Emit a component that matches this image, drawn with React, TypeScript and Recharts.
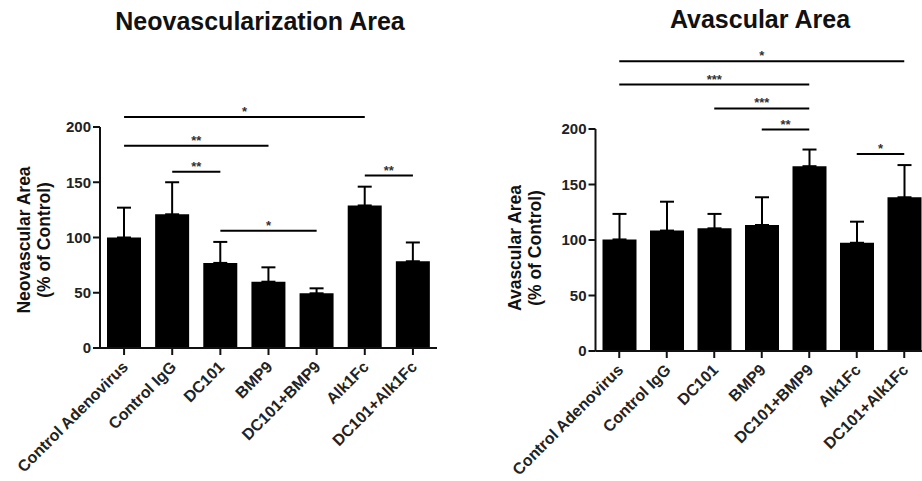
import React from 'react';
import { BarChart, Bar, XAxis, YAxis, ErrorBar, ReferenceLine } from 'recharts';

const groups = ['Control Adenovirus', 'Control IgG', 'DC101', 'BMP9', 'DC101+BMP9', 'Alk1Fc', 'DC101+Alk1Fc'];

// neovascular area, % of control (mean and upper SEM)
const neoMean = [100, 121, 77, 60, 49.5, 129, 78.5];
const neoErr = [27, 29, 19, 13, 4.5, 17, 17];

// avascular area, % of control
const avMean = [100.5, 108.5, 110.5, 113.5, 166.5, 97.5, 138.5];
const avErr = [23, 26, 13, 25, 15, 19, 29];

const yTicks = [0, 50, 100, 150, 200];

// significance bars: group index from/to, height in axis units, stars
const neoBrackets = [
  { from: 0, to: 5, y: 209, label: '*' },
  { from: 0, to: 3, y: 183, label: '**' },
  { from: 1, to: 2, y: 159.5, label: '**' },
  { from: 2, to: 4, y: 106, label: '*' },
  { from: 5, to: 6, y: 156, label: '**' },
];
const avBrackets = [
  { from: 0, to: 6, y: 261, label: '*' },
  { from: 0, to: 4, y: 240, label: '***' },
  { from: 2, to: 4, y: 218.5, label: '***' },
  { from: 3, to: 4, y: 199.5, label: '**' },
  { from: 5, to: 6, y: 177.5, label: '*' },
];

const FONT = '"Liberation Sans", Arial, sans-serif';

const toRows = (mean: number[], err: number[]) =>
  groups.map((g, i) => ({ name: g, value: mean[i], err: [0, err[i]] }));

const XTick = (props: any) => {
  const { x, y, payload } = props;
  return (
    <g transform={`translate(${x + 5},${y + 11})`}>
      <text
        transform="rotate(-45)"
        textAnchor="end"
        fontFamily={FONT}
        fontWeight="bold"
        fontSize={16}
        fill="#222"
      >
        {payload.value}
      </text>
    </g>
  );
};

interface PanelProps {
  rows: any[];
  brackets: { from: number; to: number; y: number; label: string }[];
  left: number;
  width: number;
  top: number;
  bottom: number;
  axisWidth: number;
  right: number;
}

const Panel = ({ rows, brackets, left, width, top, bottom, axisWidth, right }: PanelProps) => (
  <div style={{ position: 'absolute', left, top: 0 }}>
    <BarChart width={width} height={481} data={rows} margin={{ top, right, bottom: 0, left: 0 }}>
      <XAxis
        dataKey="name"
        interval={0}
        height={bottom}
        tick={<XTick />}
        tickSize={7}
        axisLine={{ stroke: '#111', strokeWidth: 2 }}
        tickLine={{ stroke: '#111', strokeWidth: 2 }}
      />
      <YAxis
        width={axisWidth}
        domain={[0, 200]}
        ticks={yTicks}
        tickSize={7}
        axisLine={{ stroke: '#111', strokeWidth: 2 }}
        tickLine={{ stroke: '#111', strokeWidth: 2 }}
        tick={{ fill: '#222', fontSize: 15, fontWeight: 'bold', fontFamily: FONT }}
      />
      <Bar dataKey="value" fill="#000" barSize={34} isAnimationActive={false}>
        <ErrorBar dataKey="err" width={7} stroke="#000" strokeWidth={2} direction="y" />
      </Bar>
      {brackets.map((b, i) => (
        <ReferenceLine
          key={i}
          ifOverflow="visible"
          stroke="#000"
          strokeWidth={2}
          segment={[
            { x: groups[b.from], y: b.y },
            { x: groups[b.to], y: b.y },
          ]}
          label={{
            value: b.label,
            position: 'top',
            offset: 1,
            fill: '#333',
            fontSize: 13,
            fontWeight: 'bold',
            fontFamily: FONT,
          }}
        />
      ))}
    </BarChart>
  </div>
);

const YLabel = ({ cx, cy, gap, lines }: { cx: number; cy: number; gap: number; lines: string[] }) => (
  <g transform={`translate(${cx},${cy}) rotate(-90)`}>
    {lines.map((l, i) => (
      <text
        key={i}
        x={0}
        y={i * gap}
        textAnchor="middle"
        dominantBaseline="central"
        fontFamily={FONT}
        fontWeight="bold"
        fontSize={17.5}
        fill="#111"
      >
        {l}
      </text>
    ))}
  </g>
);

export default function App() {
  return (
    <div
      style={{
        position: 'fixed',
        left: 0,
        top: 0,
        width: 922,
        height: 481,
        overflow: 'hidden',
        background: '#fff',
      }}
    >
      <Panel
        rows={toRows(neoMean, neoErr)}
        brackets={neoBrackets}
        left={0}
        width={460}
        top={127}
        bottom={133}
        axisWidth={100}
        right={23}
      />
      <Panel
        rows={toRows(avMean, avErr)}
        brackets={avBrackets}
        left={460}
        width={470}
        top={129}
        bottom={130}
        axisWidth={135.5}
        right={2}
      />
      <svg
        width={922}
        height={481}
        style={{ position: 'absolute', left: 0, top: 0, pointerEvents: 'none' }}
      >
        <text x={260} y={30} textAnchor="middle" fontFamily={FONT} fontWeight="bold" fontSize={25} fill="#111">
          Neovascularization Area
        </text>
        <text x={760} y={28} textAnchor="middle" fontFamily={FONT} fontWeight="bold" fontSize={25} fill="#111">
          Avascular Area
        </text>
        <YLabel cx={24} cy={240} gap={20} lines={['Neovascular Area', '(% of Control)']} />
        <YLabel cx={515} cy={248} gap={20} lines={['Avascular Area', '(% of Control)']} />
      </svg>
    </div>
  );
}
